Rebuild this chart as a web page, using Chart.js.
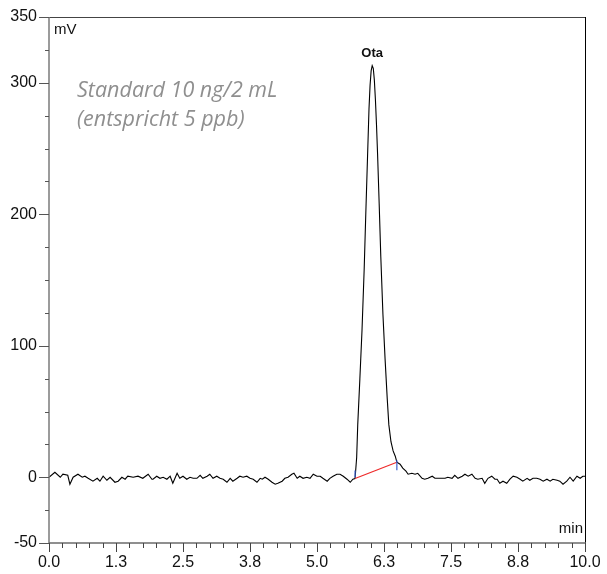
<!DOCTYPE html>
<html lang="de">
<head>
  <meta charset="UTF-8">
  <title>Chromatogramm Ota</title>
  <script src="https://cdn.jsdelivr.net/npm/chart.js"></script>
  <style>
    body { margin: 0; background: #fff; }
    canvas { display: block; }
  </style>
</head>
<body>
  <canvas id="chrom" width="607" height="574"></canvas>

  <script>
    const times = [
      0.00, 0.11, 0.21, 0.26, 0.35, 0.39, 0.45, 0.54, 0.62, 0.67, 0.73, 0.82, 0.90, 0.95, 1.01, 1.08,
      1.14, 1.23, 1.29, 1.36, 1.42, 1.47, 1.57, 1.66, 1.75, 1.85, 1.92, 1.94, 2.01, 2.07, 2.13, 2.20,
      2.26, 2.31, 2.39, 2.44, 2.50, 2.57, 2.63, 2.69, 2.76, 2.82, 2.87, 2.95, 3.00, 3.06, 3.13, 3.19,
      3.25, 3.32, 3.38, 3.43, 3.51, 3.56, 3.62, 3.69, 3.75, 3.81, 3.88, 3.94, 3.98, 4.03, 4.09, 4.16,
      4.22, 4.27, 4.35, 4.40, 4.46, 4.53, 4.57, 4.63, 4.68, 4.74, 4.81, 4.87, 4.93, 5.00, 5.06, 5.11,
      5.19, 5.24, 5.30, 5.37, 5.43, 5.49, 5.56, 5.62, 5.67,
      5.71, 5.74, 5.76, 5.80, 5.84, 5.88, 5.91, 5.94, 5.97, 5.99, 6.01, 6.03, 6.05, 6.07, 6.09, 6.11,
      6.13, 6.16, 6.19, 6.23, 6.27, 6.31, 6.34, 6.38, 6.42, 6.46, 6.49, 6.55, 6.60, 6.66, 6.70,
      6.77, 6.83, 6.88, 6.96, 7.01, 7.07, 7.15, 7.20, 7.26, 7.33, 7.39, 7.44, 7.52, 7.57, 7.63, 7.71,
      7.76, 7.82, 7.89, 7.95, 8.00, 8.08, 8.13, 8.19, 8.26, 8.32, 8.36, 8.41, 8.47, 8.54, 8.60, 8.66,
      8.73, 8.79, 8.84, 8.92, 8.97, 9.03, 9.10, 9.16, 9.22, 9.29, 9.35, 9.40, 9.48, 9.53, 9.59, 9.66,
      9.72, 9.78, 9.85, 9.91, 9.96, 10.00
    ];
    const signal = [
      0.0, 3.8, 0.0, 2.3, 1.5, -5.3, 0.0, 2.3, 0.0, 0.8, -0.8, -3.0, -0.8, -3.0, 0.8, -2.3,
      0.0, -3.8, -3.0, 0.0, -1.5, 0.8, 0.0, 0.8, -0.8, 2.3, -1.5, -1.5, 0.8, -0.8, 0.0, -1.5,
      0.8, -4.6, 3.0, -0.8, 0.8, -1.5, 0.0, -0.8, -0.8, 1.5, -0.8, 0.8, 2.3, -0.8, 0.8, -0.8,
      -1.5, -3.8, -0.8, -3.0, -0.8, 0.8, 0.0, 0.8, -0.8, -1.5, -3.8, -0.8, -1.5, 0.0, -1.5, -3.8,
      -5.3, -4.6, -3.0, -0.8, 0.0, 2.3, 3.0, -0.8, 0.8, -0.8, 0.0, -0.8, 2.3, 0.8, 0.8, -0.8,
      -3.0, -0.8, 0.8, 2.3, 2.3, 0.8, -1.5, -3.8, -1.5,
      -1.0, 15, 40, 75, 112, 158, 200, 240, 280, 298, 309, 313, 311, 302, 287, 268,
      246, 208, 168, 124, 90, 60, 40, 27, 20, 16, 11.4, 9.9, 6.9, 4.6, 2.3,
      3.0, 2.3, 3.0, -0.8, -1.5, -0.8, 0.8, -0.8, -0.8, -0.8, -0.8, 0.0, -0.8, 1.5, -0.8, 0.8,
      2.3, 0.8, 2.3, -0.8, -1.5, -0.8, -4.6, -0.8, 0.8, -1.5, -1.5, -4.6, -3.0, -4.6, -1.5, 0.8,
      0.0, -1.5, -3.0, -0.8, -2.3, -0.8, -0.8, -1.5, -3.0, -1.5, -3.0, -1.5, -2.3, -3.0, -5.3, -3.0,
      0.0, -3.0, 0.8, -0.8, 0.8, 0.8
    ];

    // Integration: Peakanfang / Peakende
    const peakName = 'Ota';
    const peakStart = { t: 5.71, v: -1.0 };
    const peakEnd = { t: 6.49, v: 11.4 };
    const peakApex = { t: 6.03, v: 313 };

    // Probenbeschreibung
    const sampleText = ['Standard 10 ng/2 mL', '(entspricht 5 ppb)'];

    // Achsen
    const yMajorTicks = [-50, 0, 100, 200, 300, 350];
    const yLabelTicks = [-50, 0, 100, 200, 300, 350];
    const yMinorStep = 25;
    const xMajorTicks = [0, 1.25, 2.5, 3.75, 5, 6.25, 7.5, 8.75, 10];
    const xTickLabels = ['0.0', '1.3', '2.5', '3.8', '5.0', '6.3', '7.5', '8.8', '10.0'];
    const xMinorStep = 0.25;

    const points = times.map((t, i) => ({ x: t, y: signal[i] }));

    // Achsen, Beschriftungen und Integrationslinie zeichnen
    const chromPlugin = {
      id: 'chromPlugin',
      afterDatasetsDraw(chart) {
        const ctx = chart.ctx;
        const xs = chart.scales.x;
        const ys = chart.scales.y;
        const area = chart.chartArea;
        const px = v => xs.getPixelForValue(v);
        const py = v => ys.getPixelForValue(v);

        ctx.save();

        // Basislinie der Integration (rot)
        ctx.strokeStyle = '#ee2a2a';
        ctx.lineWidth = 1.2;
        ctx.beginPath();
        ctx.moveTo(px(peakStart.t), py(peakStart.v));
        ctx.lineTo(px(peakEnd.t), py(peakEnd.v));
        ctx.stroke();

        // Start/Ende Markierungen (blau)
        ctx.strokeStyle = '#3a5fcd';
        ctx.lineWidth = 1.2;
        ctx.beginPath();
        ctx.moveTo(px(peakStart.t), py(peakStart.v) - 1);
        ctx.lineTo(px(peakStart.t), py(peakStart.v) - 8);
        ctx.moveTo(px(peakEnd.t), py(peakEnd.v) - 2);
        ctx.lineTo(px(peakEnd.t), py(peakEnd.v) + 8);
        ctx.stroke();

        // Rahmen
        ctx.lineWidth = 1;
        ctx.strokeStyle = '#444';
        ctx.beginPath();
        ctx.moveTo(area.left, area.top + 0.5);
        ctx.lineTo(area.right, area.top + 0.5);
        ctx.stroke();
        ctx.strokeStyle = '#000';
        ctx.beginPath();
        ctx.moveTo(area.right + 0.5, area.top);
        ctx.lineTo(area.right + 0.5, area.bottom);
        ctx.stroke();

        // Y-Achse
        ctx.strokeStyle = '#7a7a7a';
        ctx.lineWidth = 1.5;
        ctx.beginPath();
        ctx.moveTo(area.left, area.top);
        ctx.lineTo(area.left, area.bottom);
        ctx.stroke();
        ctx.lineWidth = 1;
        ctx.strokeStyle = '#555';
        ctx.beginPath();
        for (let v = ys.min; v <= ys.max; v += yMinorStep) {
          const y = Math.round(py(v)) + 0.5;
          const len = yMajorTicks.includes(v) ? 10 : 4;
          ctx.moveTo(area.left - len, y);
          ctx.lineTo(area.left, y);
        }
        ctx.stroke();

        // X-Achse
        ctx.strokeStyle = '#6a6a6a';
        ctx.lineWidth = 1.5;
        ctx.beginPath();
        ctx.moveTo(area.left, area.bottom);
        ctx.lineTo(area.right + 1, area.bottom);
        ctx.stroke();
        ctx.lineWidth = 1;
        ctx.strokeStyle = '#444';
        ctx.beginPath();
        for (let i = 0; i * xMinorStep <= xs.max + 1e-9; i++) {
          const v = i * xMinorStep;
          const x = Math.round(px(v)) + 0.5;
          const len = (i % 5 === 0) ? 9 : 5;
          ctx.moveTo(x, area.bottom);
          ctx.lineTo(x, area.bottom + len);
        }
        ctx.stroke();

        // Tick-Beschriftungen
        ctx.fillStyle = '#111';
        ctx.font = '16px "Liberation Sans", Arial, sans-serif';
        ctx.textAlign = 'right';
        ctx.textBaseline = 'middle';
        yLabelTicks.forEach(v => ctx.fillText(String(v), area.left - 12, py(v)));
        ctx.textAlign = 'center';
        ctx.textBaseline = 'top';
        xMajorTicks.forEach((v, i) => ctx.fillText(xTickLabels[i], px(v), area.bottom + 12));

        // Einheiten
        ctx.font = '15px "Liberation Sans", Arial, sans-serif';
        ctx.textAlign = 'left';
        ctx.textBaseline = 'top';
        ctx.fillText('mV', area.left + 5, area.top + 5);
        ctx.textAlign = 'right';
        ctx.textBaseline = 'bottom';
        ctx.fillText('min', area.right - 2, area.bottom - 7);

        // Peakname
        ctx.font = 'bold 13px "Liberation Sans", Arial, sans-serif';
        ctx.textAlign = 'center';
        ctx.textBaseline = 'bottom';
        ctx.fillText(peakName, px(peakApex.t), py(peakApex.v) - 6);

        // Probenbeschreibung
        ctx.fillStyle = '#8f8f8f';
        ctx.font = 'italic 21.5px "Open Sans", sans-serif';
        ctx.textAlign = 'left';
        ctx.textBaseline = 'alphabetic';
        ctx.fillText(sampleText[0], 77, py(289.5));
        ctx.fillText(sampleText[1], 77, py(267));

        ctx.restore();
      }
    };

    const ctx = document.getElementById('chrom').getContext('2d');
    const chart = new Chart(ctx, {
      type: 'line',
      data: {
        datasets: [{
          label: 'Signal',
          data: points,
          borderColor: '#000',
          borderWidth: 1.1,
          pointRadius: 0,
          tension: 0,
          fill: false
        }]
      },
      options: {
        responsive: false,
        animation: false,
        layout: { padding: { left: 49, right: 22, top: 17, bottom: 31 } },
        plugins: {
          legend: { display: false },
          tooltip: { enabled: false }
        },
        scales: {
          x: { type: 'linear', min: 0, max: 10, display: false },
          y: { type: 'linear', min: -50, max: 350, display: false }
        }
      },
      plugins: [chromPlugin]
    });
  </script>
</body>
</html>
